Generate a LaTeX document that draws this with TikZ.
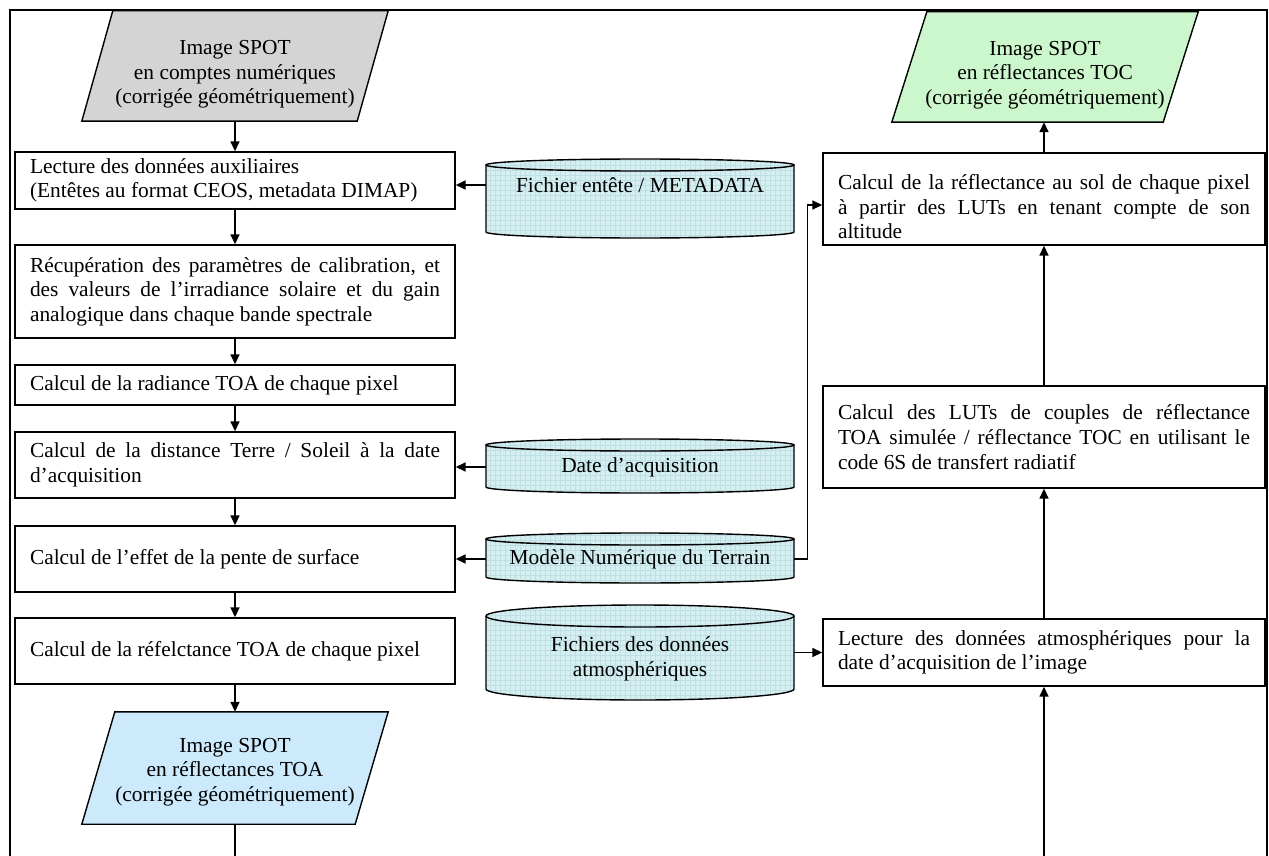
\documentclass[tikz,border=0pt]{standalone}
\usepackage{fontspec}
\setmainfont{Liberation Serif}
\usetikzlibrary{arrows.meta}
\definecolor{grayfill}{HTML}{D4D4D4}
\definecolor{greenfill}{HTML}{CCF7CC}
\definecolor{bluefill}{HTML}{CCEAFB}
\definecolor{cylfill}{HTML}{D5EEF0}
\definecolor{cylgrid}{HTML}{BEE0E4}
\newcommand{\dgfont}{\fontsize{21.4}{24.6}\selectfont\tolerance=10000\hyphenpenalty=10000\emergencystretch=20pt}
\newcommand{\dbcyl}[5]{%
  \pgfmathsetmacro{\cylcx}{(#1+#2)/2}%
  \pgfmathsetmacro{\cylrx}{(#2-#1)/2}%
  \begin{scope}
    \clip (#1,#3) -- (#1,#4) arc[start angle=180,end angle=360,x radius=\cylrx pt,y radius=#5pt]
      -- (#2,#3) arc[start angle=0,end angle=180,x radius=\cylrx pt,y radius=#5pt] -- cycle;
    \fill[cylfill] (#1-2,#3-#5-2) rectangle (#2+2,#4+#5+2);
    \draw[cylgrid,line width=0.35pt,step=5pt] (#1-2,#3-#5-2) grid (#2+2,#4+#5+2);
  \end{scope}
  \draw[line width=1.4pt] (#1,#3) -- (#1,#4) arc[start angle=180,end angle=360,x radius=\cylrx pt,y radius=#5pt] -- (#2,#3);
  \draw[line width=1.4pt] (\cylcx,#3) ellipse[x radius=\cylrx pt,y radius=#5pt];
}
\tikzset{
  lbox/.style={draw, line width=1.4pt, fill=white, minimum width=440pt, text width=410pt,
    inner xsep=15pt, inner ysep=0pt, align=justify, font=\dgfont},
  rbox/.style={lbox, minimum width=442pt, text width=412pt},
  pshape/.style={minimum width=306pt, minimum height=110pt, inner sep=0pt},
  pline/.style={draw, line width=1.4pt},
  ptext/.style={align=center, inner sep=0pt, font=\dgfont},
  cyltext/.style={align=center, inner sep=0pt, minimum width=308pt, font=\dgfont},
  arr/.style={line width=1.6pt, -{Triangle[length=10pt,width=9pt]}},
  frameline/.style={line width=2.6pt}
}
\begin{document}
\begin{tikzpicture}[x=1pt, y=-1pt]
\useasboundingbox (0,0) rectangle (1269,856);
\fill[white] (0,0) rectangle (1269,856);
% outer frame
\draw[frameline] (10,870) -- (10,10) -- (1267,10) -- (1267,870);

% parallelograms
\node[pshape] (p1) at (235,66) {};
\filldraw[pline, fill=grayfill] ([xshift=31pt]p1.north west) -- (p1.north east) -- ([xshift=-31pt]p1.south east) -- (p1.south west) -- cycle;
\node[ptext] (p1t) at ([yshift=-8.5pt]p1.center) {Image SPOT\\en comptes numériques\\(corrigée géométriquement)};

\node[pshape] (p3) at (1045,67) {};
\filldraw[pline, fill=greenfill] ([xshift=35pt]p3.north west) -- (p3.north east) -- ([xshift=-35pt]p3.south east) -- (p3.south west) -- cycle;
\node[ptext] (p3t) at ([yshift=-8pt]p3.center) {Image SPOT\\en réflectances TOC\\(corrigée géométriquement)};

\node[pshape, minimum height=112pt] (p2) at (235,768) {};
\filldraw[pline, fill=bluefill] ([xshift=33pt]p2.north west) -- (p2.north east) -- ([xshift=-33pt]p2.south east) -- (p2.south west) -- cycle;
\node[ptext] (p2t) at ([yshift=-4pt]p2.center) {Image SPOT\\en réflectances TOA\\(corrigée géométriquement)};

% left column
\node[lbox, minimum height=57pt] (b1) at (235,180.5) {Lecture des données auxiliaires\\(Entêtes au format CEOS, metadata DIMAP)};
\node[lbox, minimum height=93pt] (b2) at (235,291.5) {Récupération des paramètres de calibration, et\linebreak des valeurs de l’irradiance solaire et du gain\linebreak analogique dans chaque bande spectrale};
\node[lbox, minimum height=40pt] (b3) at (235,385) {Calcul de la radiance TOA de chaque pixel};
\node[lbox, minimum height=66pt] (b4) at (235,465) {Calcul de la distance Terre / Soleil à la date\linebreak d’acquisition};
\node[lbox, minimum height=66pt] (b5) at (235,559) {Calcul de l’effet de la pente de surface};
\node[lbox, minimum height=66pt] (b6) at (235,651) {Calcul de la réfelctance TOA de chaque pixel};

% right column
\node[rbox, minimum height=92pt] (rb1) at (1044,199) {\rule{0pt}{31pt}Calcul de la réflectance au sol de chaque pixel\linebreak à partir des LUTs en tenant compte de son\linebreak altitude};
\node[rbox, minimum height=102pt] (rb2) at (1044,437) {Calcul des LUTs de couples de réflectance\linebreak TOA simulée / réflectance TOC en utilisant le\linebreak code 6S de transfert radiatif};
\node[rbox, minimum height=67pt] (rb3) at (1044,652.5) {Lecture des données atmosphériques pour la\linebreak date d’acquisition de l’image};

% cylinders
\dbcyl{486}{794}{165}{232}{6}
\node[cyltext] (c1) at (640,185) {Fichier entête / METADATA};
\dbcyl{486}{794}{445}{487}{6}
\node[cyltext] (c2) at (640,467) {Date d’acquisition};
\dbcyl{486}{794}{539}{577}{6}
\node[cyltext] (c3) at (640,559) {Modèle Numérique du Terrain};
\dbcyl{486}{794}{616}{689}{11}
\node[cyltext] (c4) at (640,659) {Fichiers des données\\atmosphériques};

% left column connectors
\draw[arr] (p1.south) -- (p1.south |- b1.north);
\draw[arr] (b1.south) -- (b2.north);
\draw[arr] (b2.south) -- (b3.north);
\draw[arr] (b3.south) -- (b4.north);
\draw[arr] (b4.south) -- (b5.north);
\draw[arr] (b5.south) -- (b6.north);
\draw[arr] (b6.south) -- (b6.south |- p2.north);

% data inputs
\draw[arr] (c1.west) -- (c1.west -| b1.east);
\draw[arr] (c2.west) -- (c2.west -| b4.east);
\draw[arr] (c3.west) -- (c3.west -| b5.east);
\draw[arr] (c3.east) -| ([xshift=-15pt,yshift=-6pt]rb1.west) -- ([yshift=-6pt]rb1.west);
\draw[arr] (c4.east |- rb3.west) -- (rb3.west);

% right column connectors
\draw[arr] (rb1.north) -- (rb1.north |- p3.south);
\draw[arr] (rb2.north) -- (rb1.south);
\draw[arr] (rb3.north) -- (rb2.south);

% bottom link (cut by the page edge)
\coordinate (bl) at (235,858);
\coordinate (br) at (1044,858);
\draw[arr] (p2.south) -- (bl) -- (br) -- (rb3.south);
\end{tikzpicture}
\end{document}
